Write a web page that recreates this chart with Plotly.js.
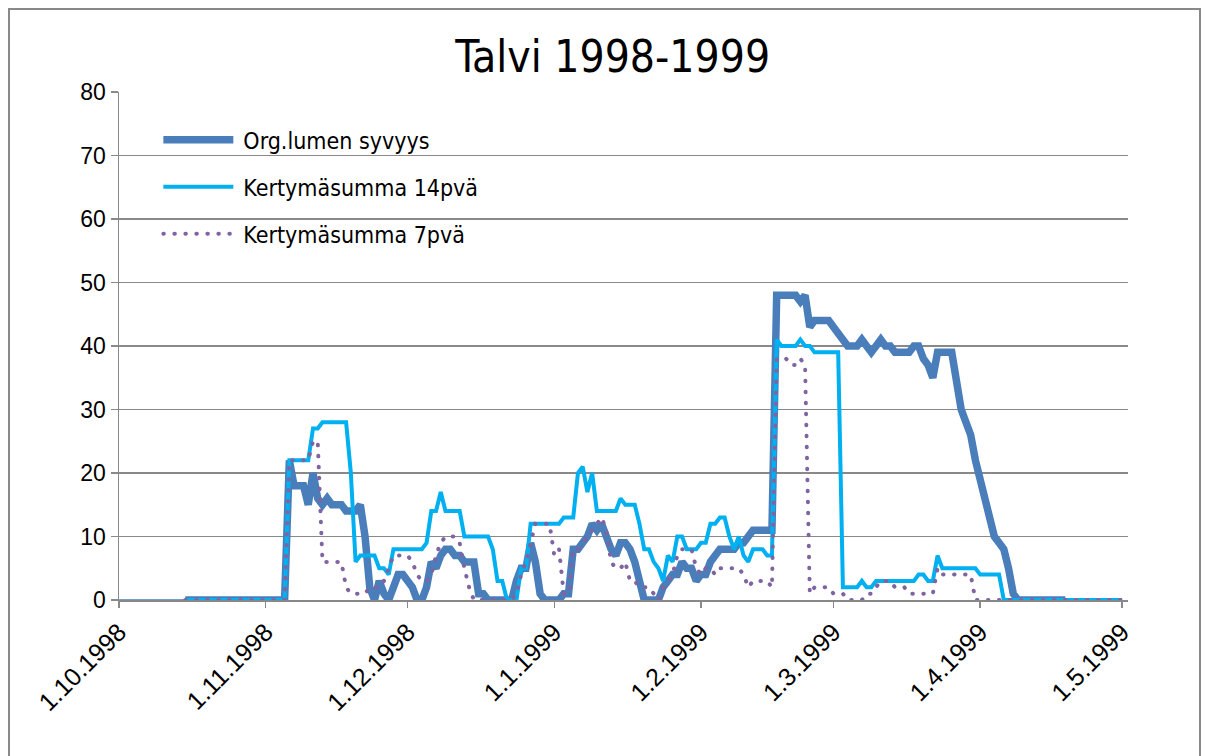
<!DOCTYPE html>
<html>
<head>
<meta charset="utf-8">
<script src="https://cdn.plot.ly/plotly-3.0.1.min.js"></script>
<style>
  html, body { margin: 0; padding: 0; background: #ffffff; }
  #chart { width: 1206px; height: 756px; }
</style>
</head>
<body>
<div id="chart"></div>
<script>
// ---- Data ----
const tickDates = ['1998-10-01','1998-11-01','1998-12-01','1999-01-01','1999-02-01','1999-03-01','1999-04-01','1999-05-01'];
const tickLabels = ['1.10.1998','1.11.1998','1.12.1998','1.1.1999','1.2.1999','1.3.1999','1.4.1999','1.5.1999'];

const leadDates = ['1998-10-01','1998-10-15'];
const leadVals = [0, 0];

const orgDates = ['1998-10-15','1998-11-05','1998-11-06','1998-11-07','1998-11-09','1998-11-10','1998-11-11','1998-11-12','1998-11-13','1998-11-14','1998-11-15','1998-11-17','1998-11-18','1998-11-20','1998-11-21','1998-11-22','1998-11-23','1998-11-24','1998-11-25','1998-11-26','1998-11-27','1998-11-28','1998-11-29','1998-11-30','1998-12-01','1998-12-02','1998-12-03','1998-12-04','1998-12-05','1998-12-06','1998-12-07','1998-12-08','1998-12-09','1998-12-10','1998-12-11','1998-12-12','1998-12-13','1998-12-15','1998-12-16','1998-12-17','1998-12-18','1998-12-23','1998-12-24','1998-12-25','1998-12-26','1998-12-27','1998-12-28','1998-12-29','1998-12-30','1999-01-02','1999-01-03','1999-01-04','1999-01-05','1999-01-06','1999-01-07','1999-01-08','1999-01-09','1999-01-10','1999-01-11','1999-01-12','1999-01-13','1999-01-14','1999-01-15','1999-01-16','1999-01-17','1999-01-18','1999-01-19','1999-01-20','1999-01-23','1999-01-24','1999-01-25','1999-01-26','1999-01-27','1999-01-28','1999-01-29','1999-01-30','1999-01-31','1999-02-01','1999-02-02','1999-02-03','1999-02-04','1999-02-05','1999-02-08','1999-02-09','1999-02-10','1999-02-11','1999-02-12','1999-02-16','1999-02-17','1999-02-21','1999-02-22','1999-02-23','1999-02-24','1999-02-25','1999-02-28','1999-03-01','1999-03-02','1999-03-03','1999-03-04','1999-03-06','1999-03-07','1999-03-08','1999-03-09','1999-03-10','1999-03-11','1999-03-12','1999-03-13','1999-03-14','1999-03-17','1999-03-18','1999-03-19','1999-03-20','1999-03-21','1999-03-22','1999-03-23','1999-03-26','1999-03-27','1999-03-28','1999-03-29','1999-03-30','1999-03-31','1999-04-01','1999-04-02','1999-04-03','1999-04-04','1999-04-05','1999-04-06','1999-04-07','1999-04-08','1999-04-09','1999-04-19'];
const orgVals = [0,0,22,18,18,15,20,16,15,16,15,15,14,14,15,10,2,0,3,1,0,2,4,4,3,2,0,0,2,6,5,7,8,8,7,7,6,6,1,1,0,0,3,5,5,9,6,1,0,0,1,1,8,8,9,10,12,11,12,10,8,7,9,9,8,6,3,0,0,2,3,4,4,6,5,5,3,4,4,6,7,8,8,9,9,10,11,11,48,48,47,48,43,44,44,43,42,41,40,40,41,40,39,40,41,40,40,39,39,40,40,38,37,35,39,39,35,30,28,26,22,19,16,12,10,9,8,5,1,0,0];

const k14Dates = ['1998-10-15','1998-11-05','1998-11-06','1998-11-10','1998-11-11','1998-11-12','1998-11-13','1998-11-18','1998-11-19','1998-11-20','1998-11-21','1998-11-24','1998-11-25','1998-11-26','1998-11-27','1998-11-28','1998-12-04','1998-12-05','1998-12-06','1998-12-07','1998-12-08','1998-12-09','1998-12-12','1998-12-13','1998-12-18','1998-12-19','1998-12-20','1998-12-21','1998-12-22','1998-12-24','1998-12-25','1998-12-26','1998-12-27','1999-01-02','1999-01-03','1999-01-05','1999-01-06','1999-01-07','1999-01-08','1999-01-09','1999-01-10','1999-01-14','1999-01-15','1999-01-16','1999-01-18','1999-01-19','1999-01-20','1999-01-21','1999-01-22','1999-01-23','1999-01-24','1999-01-25','1999-01-26','1999-01-27','1999-01-28','1999-01-29','1999-01-31','1999-02-01','1999-02-02','1999-02-03','1999-02-04','1999-02-05','1999-02-06','1999-02-07','1999-02-08','1999-02-09','1999-02-10','1999-02-11','1999-02-12','1999-02-14','1999-02-15','1999-02-16','1999-02-17','1999-02-18','1999-02-21','1999-02-22','1999-02-23','1999-02-24','1999-02-25','1999-03-02','1999-03-03','1999-03-06','1999-03-07','1999-03-08','1999-03-09','1999-03-10','1999-03-18','1999-03-19','1999-03-20','1999-03-21','1999-03-22','1999-03-23','1999-03-24','1999-03-31','1999-04-01','1999-04-05','1999-04-06','1999-05-01'];
const k14Vals = [0,0,22,22,27,27,28,28,20,6,7,7,5,5,4,8,8,9,14,14,17,14,14,10,10,8,3,3,0,0,5,5,12,12,13,13,20,21,17,20,14,14,16,15,15,12,8,8,6,5,3,7,6,10,10,8,8,9,9,12,12,13,13,10,8,10,7,6,8,8,7,7,41,40,40,41,40,40,39,39,2,2,3,2,2,3,3,4,4,3,3,7,5,5,4,4,0,0];

const k7Dates = ['1998-10-15','1998-11-05','1998-11-06','1998-11-10','1998-11-11','1998-11-12','1998-11-13','1998-11-17','1998-11-18','1998-11-19','1998-11-22','1998-11-23','1998-11-25','1998-11-26','1998-11-27','1998-11-28','1998-12-01','1998-12-02','1998-12-03','1998-12-04','1998-12-05','1998-12-06','1998-12-07','1998-12-08','1998-12-09','1998-12-11','1998-12-12','1998-12-13','1998-12-14','1998-12-15','1998-12-23','1998-12-24','1998-12-25','1998-12-26','1998-12-27','1998-12-28','1998-12-31','1999-01-01','1999-01-02','1999-01-03','1999-01-04','1999-01-05','1999-01-06','1999-01-07','1999-01-08','1999-01-09','1999-01-10','1999-01-11','1999-01-12','1999-01-13','1999-01-14','1999-01-15','1999-01-16','1999-01-17','1999-01-18','1999-01-19','1999-01-21','1999-01-22','1999-01-23','1999-01-24','1999-01-25','1999-01-26','1999-01-27','1999-01-28','1999-01-30','1999-01-31','1999-02-01','1999-02-02','1999-02-03','1999-02-04','1999-02-05','1999-02-09','1999-02-10','1999-02-11','1999-02-12','1999-02-15','1999-02-16','1999-02-17','1999-02-19','1999-02-20','1999-02-21','1999-02-22','1999-02-23','1999-02-24','1999-02-25','1999-02-28','1999-03-01','1999-03-03','1999-03-04','1999-03-07','1999-03-08','1999-03-09','1999-03-10','1999-03-11','1999-03-13','1999-03-14','1999-03-16','1999-03-17','1999-03-22','1999-03-23','1999-03-24','1999-03-30','1999-03-31','1999-05-01'];
const k7Vals = [0,0,22,22,25,25,6,6,2,1,1,2,2,3,5,7,7,6,4,3,3,4,7,9,10,10,9,5,2,0,0,1,4,6,9,12,12,7,8,1,1,8,8,9,10,11,12,13,11,6,5,5,6,3,3,2,2,1,0,2,3,4,7,8,8,5,4,5,5,4,5,5,4,2,3,3,2,38,38,37,37,38,37,1,2,2,1,1,0,0,1,1,2,3,3,2,2,1,1,5,4,4,0,0];

const seriesNames = ['Org.lumen syvyys', 'Kertymäsumma 14pvä', 'Kertymäsumma 7pvä'];

// ---- Styling ----
const GRAY = '#898989';
const TXT = "'Liberation Sans Narrow', 'DejaVu Sans Condensed', sans-serif";
const NUM = "'Liberation Sans', Arial, sans-serif";
const C_ORG = '#4A7EBB';
const C_14 = '#00B0F0';
const C_7 = '#8064A2';

const traces = [
  { x: leadDates, y: leadVals, type: 'scatter', mode: 'lines', showlegend: false, hoverinfo: 'skip',
    line: { color: C_ORG, width: 1.5 } },
  { x: orgDates, y: orgVals, type: 'scatter', mode: 'lines', name: seriesNames[0], legendgroup: 'a',
    line: { color: C_ORG, width: 7.5, shape: 'linear' } },
  { x: k14Dates, y: k14Vals, type: 'scatter', mode: 'lines', name: seriesNames[1], legendgroup: 'b',
    line: { color: C_14, width: 4 } },
  { x: k7Dates, y: k7Vals, type: 'scatter', mode: 'lines', name: seriesNames[2], legendgroup: 'c',
    line: { color: C_7, width: 4, dash: '3px,7px' } }
];

const layout = {
  width: 1206, height: 756,
  margin: { l: 119, r: 78, t: 92, b: 156 },
  paper_bgcolor: '#ffffff', plot_bgcolor: '#ffffff',
  title: {
    text: 'Talvi 1998-1999',
    font: { family: TXT, size: 44, color: '#000000' },
    x: 0.508, xref: 'container', xanchor: 'center',
    y: 0.925, yref: 'container', yanchor: 'middle'
  },
  xaxis: {
    type: 'date',
    range: ['1998-10-01', '1999-05-02 06:00'],
    tickmode: 'array', tickvals: tickDates, ticktext: tickLabels,
    tickangle: -45,
    ticks: 'outside', ticklen: 6, tickwidth: 1.5, tickcolor: GRAY,
    showline: true, linecolor: GRAY, linewidth: 1.5,
    showgrid: false, zeroline: false,
    tickfont: { family: NUM, size: 25, color: '#000000' }
  },
  yaxis: {
    range: [0, 80], tickmode: 'linear', tick0: 0, dtick: 10,
    ticks: 'outside', ticklen: 7, tickwidth: 1.5, tickcolor: GRAY,
    showline: true, linecolor: GRAY, linewidth: 1.5,
    showgrid: true, gridcolor: GRAY, gridwidth: 1.5, zeroline: false,
    tickfont: { family: NUM, size: 23, color: '#000000' }
  },
  legend: {
    x: 0.039, y: 0.948, xanchor: 'left', yanchor: 'top',
    bgcolor: 'rgba(255,255,255,0)', borderwidth: 0,
    font: { family: TXT, size: 23, color: '#000000' },
    tracegroupgap: 14, itemwidth: 75, traceorder: 'grouped'
  },
  shapes: [
    { type: 'rect', xref: 'paper', yref: 'paper',
      x0: (9 - 119) / 1009, x1: (1200 - 119) / 1009,
      y0: (600 - 770) / 508, y1: (600 - 9) / 508,
      line: { color: GRAY, width: 2 }, fillcolor: 'rgba(0,0,0,0)', layer: 'below' }
  ],
  showlegend: true
};

Plotly.newPlot('chart', traces, layout, { displayModeBar: false, staticPlot: true }).then(function (gd) {
  // round dots for the dotted series
  gd.querySelectorAll('path.js-line').forEach(function (p) {
    const s = (p.style.stroke || '').replace(/\s/g, '');
    if (s === 'rgb(128,100,162)') {
      p.style.strokeLinecap = 'round';
      p.style.strokeDasharray = '0.5px,10.5px';
    }
  });
  // longer legend line samples
  gd.querySelectorAll('.legend .traces path.js-line').forEach(function (p) {
    p.setAttribute('d', 'M5,0h70');
  });
});
</script>
</body>
</html>
